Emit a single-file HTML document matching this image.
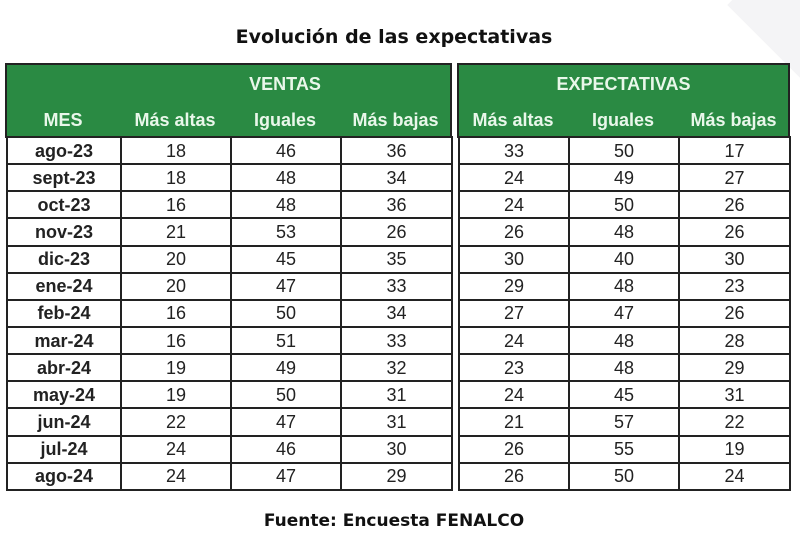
<!DOCTYPE html><html><head><style>
body{margin:0;width:800px;height:533px;background:#fff;position:relative;overflow:hidden;font-family:"DejaVu Sans","Liberation Sans",sans-serif}
.t{position:absolute;left:0;width:800px;text-align:center;font-weight:bold;color:#111}
.g{position:absolute;background:#2a8a43;border:2px solid #222;box-sizing:border-box}
.h{position:absolute;color:#e9f7ea;font-weight:bold;font-size:18px;text-align:center;font-family:"Liberation Sans",sans-serif}
table{position:absolute;border-collapse:collapse;font-family:"Liberation Sans",sans-serif;font-size:18px;color:#222;table-layout:fixed}
tr{height:27.15px}
td{border:2px solid #222;padding:0;text-align:center;line-height:24px}
.m{font-weight:bold}
.deco{position:absolute;right:-60px;top:-50px;width:110px;height:110px;background:#f4f4f6;transform:rotate(45deg)}
</style></head><body>
<div class="deco"></div>
<div class="t" style="top:26px;font-size:19px;left:-6px">Evolución de las expectativas</div>
<div class="g" style="left:5px;top:63px;width:447px;height:75px"></div>
<div class="g" style="left:457px;top:63px;width:333px;height:75px"></div>
<div class="h" style="left:230px;width:110px;top:74px">VENTAS</div>
<div class="h" style="left:458px;width:331px;top:74px">EXPECTATIVAS</div>
<div class="h" style="left:6px;width:114px;top:110px">MES</div>
<div class="h" style="left:120px;width:110px;top:110px">Más altas</div>
<div class="h" style="left:230px;width:110px;top:110px">Iguales</div>
<div class="h" style="left:340px;width:111px;top:110px">Más bajas</div>
<div class="h" style="left:458px;width:110px;top:110px">Más altas</div>
<div class="h" style="left:568px;width:110px;top:110px">Iguales</div>
<div class="h" style="left:678px;width:111px;top:110px">Más bajas</div>
<table style="left:6px;top:136px;width:445px">
<colgroup><col style="width:114px"><col style="width:110px"><col style="width:110px"><col style="width:111px"></colgroup>
<tr><td class="m">ago-23</td><td>18</td><td>46</td><td>36</td></tr>
<tr><td class="m">sept-23</td><td>18</td><td>48</td><td>34</td></tr>
<tr><td class="m">oct-23</td><td>16</td><td>48</td><td>36</td></tr>
<tr><td class="m">nov-23</td><td>21</td><td>53</td><td>26</td></tr>
<tr><td class="m">dic-23</td><td>20</td><td>45</td><td>35</td></tr>
<tr><td class="m">ene-24</td><td>20</td><td>47</td><td>33</td></tr>
<tr><td class="m">feb-24</td><td>16</td><td>50</td><td>34</td></tr>
<tr><td class="m">mar-24</td><td>16</td><td>51</td><td>33</td></tr>
<tr><td class="m">abr-24</td><td>19</td><td>49</td><td>32</td></tr>
<tr><td class="m">may-24</td><td>19</td><td>50</td><td>31</td></tr>
<tr><td class="m">jun-24</td><td>22</td><td>47</td><td>31</td></tr>
<tr><td class="m">jul-24</td><td>24</td><td>46</td><td>30</td></tr>
<tr><td class="m">ago-24</td><td>24</td><td>47</td><td>29</td></tr>
</table>
<table style="left:458px;top:136px;width:331px">
<colgroup><col style="width:110px"><col style="width:110px"><col style="width:111px"></colgroup>
<tr><td>33</td><td>50</td><td>17</td></tr>
<tr><td>24</td><td>49</td><td>27</td></tr>
<tr><td>24</td><td>50</td><td>26</td></tr>
<tr><td>26</td><td>48</td><td>26</td></tr>
<tr><td>30</td><td>40</td><td>30</td></tr>
<tr><td>29</td><td>48</td><td>23</td></tr>
<tr><td>27</td><td>47</td><td>26</td></tr>
<tr><td>24</td><td>48</td><td>28</td></tr>
<tr><td>23</td><td>48</td><td>29</td></tr>
<tr><td>24</td><td>45</td><td>31</td></tr>
<tr><td>21</td><td>57</td><td>22</td></tr>
<tr><td>26</td><td>55</td><td>19</td></tr>
<tr><td>26</td><td>50</td><td>24</td></tr>
</table>
<div class="t" style="top:511px;font-size:17px;left:-6px">Fuente: Encuesta FENALCO</div>
</body></html>
